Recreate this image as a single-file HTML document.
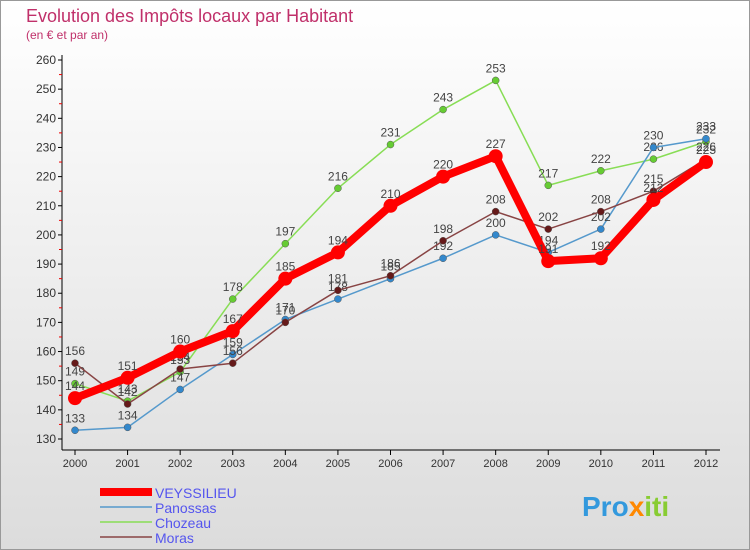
<!DOCTYPE html>
<html><head><meta charset="utf-8"><style>
body{margin:0;width:750px;height:550px;overflow:hidden;font-family:"Liberation Sans",sans-serif}
#c{position:absolute;left:0;top:0;width:748px;height:548px;border:1px solid #999;background:linear-gradient(#fff,#dcdcdc)}
</style></head><body>
<div id="c"></div>
<svg id="s" width="750" height="550" style="position:absolute;left:0;top:0"></svg>
<script>
const years=["2000","2001","2002","2003","2004","2005","2006","2007","2008","2009","2010","2011","2012"];
const yTicks=[130,140,150,160,170,180,190,200,210,220,230,240,250,260];
const veyssilieu=[144,151,160,167,185,194,210,220,227,191,192,212,225];
const panossas=[133,134,147,159,171,178,185,192,200,194,202,230,233];
const chozeau=[149,143,153,178,197,216,231,243,253,217,222,226,232];
const moras=[156,142,154,156,170,181,186,198,208,202,208,215,226];
const seriesNames=["VEYSSILIEU","Panossas","Chozeau","Moras"];
const NS="http://www.w3.org/2000/svg";const s=document.getElementById('s');
const X=i=>75+i*(706-75)/12, Y=v=>439-(v-130)*(439-60)/130;
function el(t,a,p){const e=document.createElementNS(NS,t);for(const k in a)e.setAttribute(k,a[k]);(p||s).appendChild(e);return e;}
function tx(x,y,str,a){const e=el('text',Object.assign({x:x,y:y,'font-size':12,fill:'#444'},a||{}));e.textContent=str;return e;}
let t=tx(26,22,"Evolution des Impôts locaux par Habitant",{'font-size':18,fill:'#c0306a'});

t=tx(26,39,"(en € et par an)",{'font-size':12,fill:'#c0306a'});

el('line',{x1:62,y1:55,x2:62,y2:450,stroke:'#000'});
el('line',{x1:62,y1:450,x2:720,y2:450,stroke:'#000'});
yTicks.forEach(v=>{el('line',{x1:58,x2:62,y1:Y(v),y2:Y(v),stroke:'#000'});
 if(v<260)el('line',{x1:59,x2:62,y1:Y(v+5),y2:Y(v+5),stroke:'#e00'});
 const l=tx(56,Y(v)+4,v,{'text-anchor':'end','font-size':12,fill:'#333'});
 });
years.forEach((y,i)=>{el('line',{x1:X(i),x2:X(i),y1:450,y2:455,stroke:'#000'});
 const l=tx(X(i),467,y,{'text-anchor':'middle','font-size':11,fill:'#333'});
 });
const defs=[[chozeau,'#88dd55','#66cc33',1.5,3.5],[panossas,'#5599cc','#3388cc',1.5,3.5],[moras,'#884444','#661a1a',1.5,3.5],[veyssilieu,'#ff0000','#ff0000',8,7]];
const nm=['chozeau','panossas','moras','veyssilieu'];
defs.forEach((d,k)=>{const g=el('g',{});
 const p=el('polyline',{points:d[0].map((v,i)=>X(i)+','+Y(v)).join(' '),fill:'none',stroke:d[1],'stroke-width':d[3],'stroke-linejoin':'round'},g);
 d[0].forEach((v,i)=>{const c=el('circle',{cx:X(i),cy:Y(v),r:d[4],fill:d[2],stroke:k==3?'none':'#555','stroke-width':0.5},g);
  
  const l=tx(X(i),Y(v)-8,v,{'text-anchor':'middle','font-size':12,fill:'#444'},g);
  });});
const lc=['#ff0000','#5599cc','#88dd55','#884444'],lw=[8,1.5,1.5,1.5];
seriesNames.forEach((n,i)=>{const g=el('g',{});
 el('line',{x1:100,x2:152,y1:492+i*15,y2:492+i*15,stroke:lc[i],'stroke-width':lw[i]},g);
 tx(155,498+i*15,n,{'font-size':14,fill:'#5555ee'},g);});
const b=tx(582,516,"Pro",{'font-size':28,'font-weight':'bold',fill:'#3399dd'});

const t2=el('tspan',{fill:'#ff8800'},b);t2.textContent='x';const t3=el('tspan',{fill:'#88cc33'},b);t3.textContent='iti';
</script></body></html>
